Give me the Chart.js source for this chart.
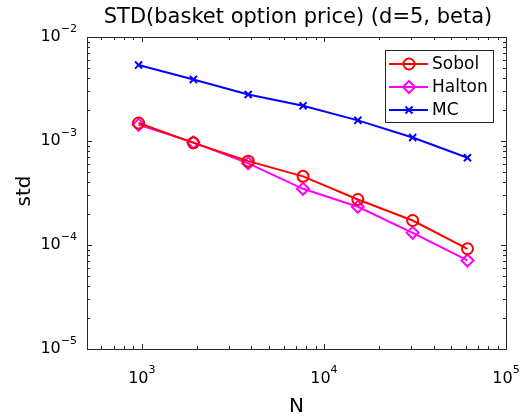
<!DOCTYPE html>
<html><head><meta charset="utf-8">
<script src="https://cdn.jsdelivr.net/npm/chart.js@4.4.1/dist/chart.umd.min.js"></script>
<style>html,body{margin:0;padding:0;background:#fff}#wrap{width:526px;height:417px}</style>
</head><body><div id="wrap"><canvas id="c" width="526" height="417"></canvas></div>
<script>
const titleText = "STD(basket option price) (d=5, beta)";
const xLabel = "N";
const yLabel = "std";
const N = [960, 1920, 3840, 7680, 15360, 30720, 61440];
const sobol = [1.49e-3, 9.6e-4, 6.4e-4, 4.57e-4, 2.74e-4, 1.72e-4, 9.2e-5];
const halton = [1.43e-3, 9.7e-4, 6.1e-4, 3.47e-4, 2.33e-4, 1.31e-4, 7.1e-5];
const mc = [5.37e-3, 3.91e-3, 2.80e-3, 2.18e-3, 1.58e-3, 1.08e-3, 6.9e-4];
const xTickExps = [3, 4, 5];
const yTickExps = [-2, -3, -4, -5];
const xRange = [500, 100000];
const yRange = [1e-5, 1e-2];

const FONT = '"DejaVu Sans", sans-serif';
const AX = '#262626';

function mk(label, data, color, style, r) {
  return {label, data: N.map((n,i)=>({x:n,y:data[i]})), borderColor: color, backgroundColor: color,
    borderWidth: 2, pointStyle: style, pointRadius: r, pointBorderWidth: 2,
    pointBackgroundColor: 'rgba(0,0,0,0)', pointBorderColor: color, tension: 0};
}

const deco = {
  id: 'deco',
  afterDraw(chart) {
    const ctx = chart.ctx, ca = chart.chartArea, xs = chart.scales.x, ys = chart.scales.y;
    ctx.save();
    ctx.strokeStyle = AX; ctx.lineWidth = 1;
    ctx.strokeRect(Math.round(ca.left)+0.5, Math.round(ca.top)+0.5, Math.round(ca.right-ca.left), Math.round(ca.bottom-ca.top));
    for (let e = 2; e <= 5; e++) for (let m = 1; m <= 9; m++) {
      const v = m * Math.pow(10, e);
      if (v < xRange[0] || v > xRange[1]) continue;
      const px = Math.round(xs.getPixelForValue(v)) + 0.5;
      const L = m === 1 ? 5 : 3;
      ctx.beginPath();
      ctx.moveTo(px, ca.bottom); ctx.lineTo(px, ca.bottom - L);
      ctx.moveTo(px, ca.top); ctx.lineTo(px, ca.top + L);
      ctx.stroke();
    }
    for (let e = -5; e <= -2; e++) for (let m = 1; m <= 9; m++) {
      const v = m * Math.pow(10, e);
      if (v < yRange[0]*0.999 || v > yRange[1]*1.001) continue;
      const py = Math.round(ys.getPixelForValue(v)) + 0.5;
      const L = m === 1 ? 5 : 3;
      ctx.beginPath();
      ctx.moveTo(ca.left, py); ctx.lineTo(ca.left + L, py);
      ctx.moveTo(ca.right, py); ctx.lineTo(ca.right - L, py);
      ctx.stroke();
    }
    ctx.fillStyle = '#000';
    const bf = '16px ' + FONT, ef = '11px ' + FONT;
    xTickExps.forEach(e => {
      const px = xs.getPixelForValue(Math.pow(10, e));
      const es = String(e);
      ctx.font = bf; const wb = ctx.measureText('10').width;
      ctx.font = ef; const we = ctx.measureText(es).width;
      const x0 = px - (wb + we) / 2;
      ctx.textBaseline = 'middle'; ctx.textAlign = 'left';
      ctx.font = bf; ctx.fillText('10', x0, ca.bottom + 30);
      ctx.font = ef; ctx.fillText(es, x0 + wb, ca.bottom + 21);
    });
    yTickExps.forEach(e => {
      const py = ys.getPixelForValue(Math.pow(10, e));
      const es = String(e).replace('-', '\u2212');
      ctx.font = ef; const we = ctx.measureText(es).width;
      ctx.font = bf; const wb = ctx.measureText('10').width;
      const xr = ca.left - 10;
      ctx.textBaseline = 'middle'; ctx.textAlign = 'left';
      ctx.font = bf; ctx.fillText('10', xr - we - wb, py);
      ctx.font = ef; ctx.fillText(es, xr - we, py - 8);
    });
    ctx.font = '20px ' + FONT; ctx.textAlign = 'center'; ctx.textBaseline = 'middle';
    ctx.fillText(xLabel, (ca.left + ca.right) / 2, 407);
    ctx.save(); ctx.translate(25, (ca.top + ca.bottom) / 2 - 2); ctx.rotate(-Math.PI / 2);
    ctx.fillText(yLabel, 0, 0); ctx.restore();
    ctx.font = '21px ' + FONT;
    ctx.fillText(titleText, 298, 18);
    const lx = 385.5, ly = 50.5, lw = 108, lh = 72;
    ctx.fillStyle = '#fff'; ctx.fillRect(lx, ly, lw, lh);
    ctx.strokeStyle = AX; ctx.lineWidth = 1; ctx.strokeRect(lx, ly, lw, lh);
    const rows = [64, 87, 110];
    chart.data.datasets.forEach((ds, i) => {
      const y = rows[i];
      ctx.strokeStyle = ds.borderColor; ctx.lineWidth = 2;
      ctx.beginPath(); ctx.moveTo(389, y); ctx.lineTo(428, y); ctx.stroke();
      ctx.fillStyle = 'rgba(0,0,0,0)';
      Chart.helpers.drawPoint(ctx, {pointStyle: ds.pointStyle, radius: ds.pointRadius, borderWidth: 2, rotation: 0}, 409, y);
      ctx.fillStyle = '#000'; ctx.font = '17px ' + FONT; ctx.textAlign = 'left'; ctx.textBaseline = 'middle';
      ctx.fillText(ds.label, 432, y + 1);
    });
    ctx.restore();
  }
};

new Chart(document.getElementById('c'), {
  type: 'line',
  data: { datasets: [
    mk('Sobol', sobol, '#ff0000', 'circle', 5.5),
    mk('Halton', halton, '#ff00ff', 'rectRot', 6),
    mk('MC', mc, '#0000ff', 'crossRot', 5)
  ]},
  options: {
    responsive: false, animation: false,
    layout: { padding: { left: 0, top: 37, right: 20, bottom: 0 } },
    plugins: { legend: { display: false }, title: { display: false }, tooltip: { enabled: false } },
    scales: {
      x: { type: 'logarithmic', min: xRange[0], max: xRange[1], grid: { display: false }, border: { display: false },
           ticks: { display: false }, afterFit(s) { s.height = 68; } },
      y: { type: 'logarithmic', min: yRange[0], max: yRange[1], grid: { display: false }, border: { display: false },
           ticks: { display: false }, afterFit(s) { s.width = 87; } }
    }
  },
  plugins: [deco]
});
</script></body></html>
